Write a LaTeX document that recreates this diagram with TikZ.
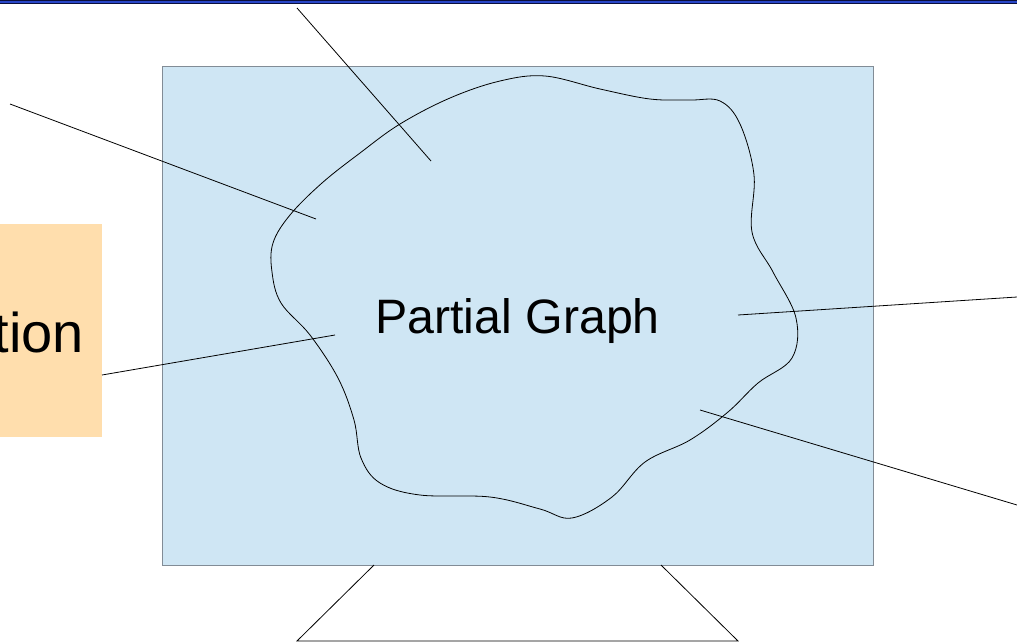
\documentclass[tikz,border=0pt]{standalone}
\usepackage{fontspec}
\setmainfont{Liberation Sans}
\begin{document}
\begin{tikzpicture}[x=1pt,y=-1pt,
  lbl/.style={font=\fontsize{48.3}{50}\selectfont, inner sep=0pt},
  biglbl/.style={font=\fontsize{56}{58}\selectfont, inner sep=0pt},
  conn/.style={draw=black, line width=0.8pt}]
\definecolor{screenblue}{RGB}{207,230,244}
\definecolor{boxorange}{RGB}{255,222,173}
\definecolor{barblue}{RGB}{40,70,200}
\definecolor{barnavy}{RGB}{10,15,60}
\useasboundingbox (0,0) rectangle (1017,643);
% top bar
\fill[barnavy] (0,0) rectangle (1017,4);
\fill[barblue] (0,1) rectangle (1017,3);
% screen
\node[draw={rgb,255:red,130;green,140;blue,150}, line width=0.8pt, fill=screenblue,
  minimum width=711pt, minimum height=499pt, inner sep=0pt, anchor=north west] (screen) at (162,66) {};
% stand
\coordinate (s1) at (374,565);
\coordinate (s2) at (297,641);
\coordinate (s3) at (738,641);
\coordinate (s4) at (661,565);
\draw[line width=0.8pt] (s1) -- (s2) -- (s3) -- (s4);
% orange box
\node[fill=boxorange, minimum width=102pt, minimum height=213pt, inner sep=0pt, anchor=north west] (obox) at (0,224) {};
\node[biglbl, anchor=base east] (otext) at (84,352) {tion};
% blob
\draw[line width=0.8pt] plot[smooth cycle, tension=0.6] coordinates {
 (281,303) (272,272) (273,243) (290,215) (322,183) (360,153) (400,124) (450,98)
 (500,81) (545,76) (600,89) (650,99) (690,100) (720,101) (740,124) (754,175)
 (752,232) (773,272) (796,318) (792,358) (758,383) (728,412) (690,440) (645,462)
 (612,497) (572,518) (540,509) (490,497) (420,495) (380,483) (361,458) (354,420)
 (338,378) (310,335)};
\node[lbl, anchor=base] (pg) at (517.5,333) {Partial Graph};
% connectors
\coordinate (a1) at (297,8);   \coordinate (b1) at (431,161);
\coordinate (a2) at (10,104);  \coordinate (b2) at (316,219);
\coordinate (a3) at (102,375); \coordinate (b3) at (335,335);
\coordinate (a4) at (1017,297);\coordinate (b4) at (738,315);
\coordinate (a5) at (1017,505);\coordinate (b5) at (700,410);
\draw[conn] (a1) -- (b1);
\draw[conn] (a2) -- (b2);
\draw[conn] (a3) -- (b3);
\draw[conn] (a4) -- (b4);
\draw[conn] (a5) -- (b5);
\end{tikzpicture}
\end{document}
